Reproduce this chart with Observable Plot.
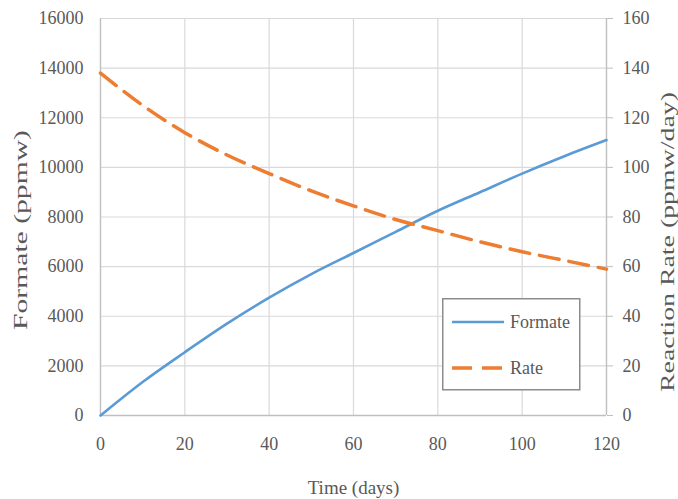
<!DOCTYPE html>
<html>
<head>
<meta charset="utf-8">
<script src="https://cdn.jsdelivr.net/npm/d3@7"></script>
<script src="https://cdn.jsdelivr.net/npm/@observablehq/plot@0.6"></script>
<style>
  html, body { margin: 0; padding: 0; background: #fff; }
  #wrap { position: relative; width: 678px; height: 499px; }
  #legend { position: absolute; left: 442px; top: 298px; }
</style>
</head>
<body>
<div id="wrap"></div>
<script>
// Data
const days    = [0, 10, 20, 30, 40, 50, 60, 70, 80, 90, 100, 110, 120];
const formate = [0, 1350, 2550, 3700, 4750, 5700, 6550, 7400, 8250, 9000, 9750, 10450, 11100];
const rate    = [138, 125, 114, 105, 97.5, 90.5, 84.5, 79, 74.5, 70, 66, 62.5, 59];
const xTicks = [0, 20, 40, 60, 80, 100, 120];
const yTicks = [0, 2000, 4000, 6000, 8000, 10000, 12000, 14000, 16000];
const rateTicks = [0, 20, 40, 60, 80, 100, 120, 140, 160];
const seriesNames = ["Formate", "Rate"];
const colors = ["#5B9BD5", "#ED7D31"];

const ratio = 16000 / 160; // secondary axis scale factor
const table = days.map((d, i) => ({day: d, formate: formate[i], rate: rate[i]}));
const textColor = "#595959";
const gridColor = "#d9d9d9";
const axisColor = "#bfbfbf";

const chart = Plot.plot({
  width: 678,
  height: 499,
  marginLeft: 100,
  marginRight: 72,
  marginTop: 18,
  marginBottom: 84,
  x: {domain: [0, 120]},
  y: {domain: [0, 16000]},
  style: {fontFamily: "'Liberation Serif', 'Times New Roman', serif", fontSize: "18px", color: textColor, background: "#fff", overflow: "visible"},
  marks: [
    Plot.gridX(xTicks, {stroke: gridColor, strokeOpacity: 1, strokeWidth: 1.2}),
    Plot.gridY(yTicks, {stroke: gridColor, strokeOpacity: 1, strokeWidth: 1.2}),
    Plot.ruleX([0], {stroke: axisColor, strokeWidth: 1.3}),
    Plot.ruleX([120], {stroke: axisColor, strokeWidth: 1.3}),
    Plot.ruleY([0], {stroke: axisColor, strokeWidth: 1.3}),
    Plot.axisX({ticks: xTicks, tickSize: 0, tickPadding: 22, label: null, tickFormat: d => String(d)}),
    Plot.axisY({ticks: yTicks, tickSize: 0, tickPadding: 17, label: null, tickFormat: d => String(d)}),
    Plot.axisY({ticks: rateTicks.map(r => r * ratio), anchor: "right", tickSize: 6, tickPadding: 10, stroke: axisColor, label: null, tickFormat: d => String(d / ratio)}),
    Plot.line(table, {x: "day", y: "formate", stroke: colors[0], strokeWidth: 2.6, curve: "monotone-x"}),
    Plot.line(table, {x: "day", y: d => d.rate * ratio, stroke: colors[1], strokeWidth: 3.5, strokeDasharray: "20,10", curve: "monotone-x"}),
    Plot.text(["Formate (ppmw)"], {frameAnchor: "left", textAnchor: "middle", lineAnchor: "middle", dx: -80, dy: 13, rotate: -90, fontSize: 19, fill: textColor, className: "ttl-left"}),
    Plot.text(["Reaction Rate (ppmw/day)"], {frameAnchor: "right", textAnchor: "middle", lineAnchor: "middle", dx: 61, dy: 25, rotate: -90, fontSize: 19, fill: textColor, className: "ttl-right"}),
    Plot.text(["Time (days)"], {frameAnchor: "bottom", textAnchor: "middle", lineAnchor: "middle", dy: 72, fontSize: 19, fill: textColor})
  ]
});

document.getElementById("wrap").appendChild(chart);

// stretch rotated titles along their baseline (about their centre) to match the reference proportions
function stretch(sel, target) {
  d3.select(chart).selectAll(sel).each(function() {
    const len = this.getComputedTextLength();
    if (!len) return;
    const t = this.getAttribute("transform") || "";
    this.setAttribute("transform", t + ` scale(${target / len},1)`);
  });
}
stretch(".ttl-left text", 200);
stretch(".ttl-right text", 300);

// Legend inside the plot area
const lg = d3.select("#wrap").append("svg")
  .attr("id", "legend")
  .attr("width", 140).attr("height", 94)
  .style("font-family", "'Liberation Serif', 'Times New Roman', serif")
  .style("font-size", "18px");
lg.append("rect").attr("x", 0.75).attr("y", 0.75).attr("width", 137).attr("height", 91)
  .attr("fill", "#fff").attr("stroke", "#8c8c8c").attr("stroke-width", 1.5);
seriesNames.forEach((name, i) => {
  const yy = 24 + i * 46;
  lg.append("line").attr("x1", 10).attr("x2", 62).attr("y1", yy).attr("y2", yy)
    .attr("stroke", colors[i]).attr("stroke-width", i === 0 ? 2.6 : 3.5)
    .attr("stroke-dasharray", i === 0 ? null : "20,10");
  lg.append("text").attr("x", 68).attr("y", yy).attr("dy", "0.35em")
    .attr("fill", textColor).text(name);
});
</script>
</body>
</html>
